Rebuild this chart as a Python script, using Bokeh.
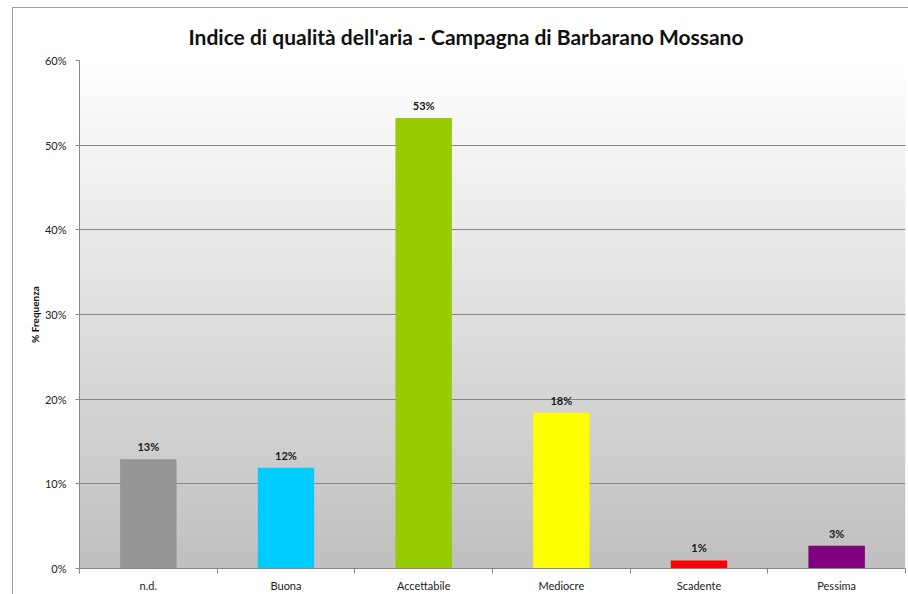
import numpy as np
from bokeh.plotting import figure
from bokeh.models import (Range1d, FixedTicker, NumeralTickFormatter, ColumnDataSource,
                          LabelSet, Title, InlineStyleSheet)
from bokeh.core.properties import value
from bokeh.embed import file_html
from bokeh.resources import INLINE

title_text = "Indice di qualità dell'aria - Campagna di Barbarano Mossano"
y_label = "% Frequenza"
categories = ["n.d.", "Buona", "Accettabile", "Mediocre", "Scadente", "Pessima"]
values = [0.129, 0.119, 0.532, 0.184, 0.0095, 0.027]
labels = ["13%", "12%", "53%", "18%", "1%", "3%"]
colors = ["#969696", "#00ccff", "#99cc00", "#ffff00", "#ff0000", "#800080"]
y_max = 0.6

FONT = "Lato"
GRAY = "#868686"

n = len(categories)
xc = [i + 0.5 for i in range(n)]

css = """
:host {
  background:
    linear-gradient(#a0a0a0, #a0a0a0) 12px 7px / 1px 100% no-repeat,
    linear-gradient(#a0a0a0, #a0a0a0) 12px 7px / 100% 1px no-repeat,
    #ffffff;
}
"""

p = figure(width=908, height=594, output_backend="svg", toolbar_location=None,
           x_range=Range1d(0, n), y_range=Range1d(0, y_max),
           min_border_left=79, min_border_right=3, min_border_top=60, min_border_bottom=25,
           background_fill_color="white", border_fill_color=None, outline_line_color=None,
           stylesheets=[InlineStyleSheet(css=css)])
p.title = None

# gradient plot-area background (white -> light gray)
rows = 200
t = np.linspace(0, 1, rows)  # bottom to top
top_c = np.array([255, 255, 255])
bot_c = np.array([192, 192, 192])
img = np.zeros((rows, 1), dtype=np.uint32)
view = img.view(dtype=np.uint8).reshape((rows, 1, 4))
for k in range(rows):
    c = bot_c + (top_c - bot_c) * t[k]
    view[k, 0, 0:3] = c.astype(np.uint8)
    view[k, 0, 3] = 255
p.image_rgba(image=[img], x=0, y=0, dw=n, dh=y_max, level="image")

src = ColumnDataSource(dict(x=xc, top=values, color=colors, label=labels))
p.vbar(x="x", top="top", width=0.41, bottom=0, color="color", source=src, line_color=None)

ls = LabelSet(x="x", y="top", text="label", source=src, text_align="center",
              text_baseline="bottom", y_offset=6, text_font=value(FONT),
              text_font_style="bold", text_font_size="11px", text_color="#1a1a1a")
p.add_layout(ls)

# y axis
p.yaxis.ticker = FixedTicker(ticks=[0, 0.1, 0.2, 0.3, 0.4, 0.5, 0.6])
p.yaxis.formatter = NumeralTickFormatter(format="0%")
p.yaxis.axis_line_color = GRAY
p.yaxis.major_tick_line_color = GRAY
p.yaxis.major_tick_out = 4
p.yaxis.major_tick_in = 0
p.yaxis.minor_tick_line_color = None
p.yaxis.major_label_text_font = FONT
p.yaxis.major_label_text_font_size = "11px"
p.yaxis.major_label_text_color = "#222222"
p.yaxis.major_label_standoff = 9
p.yaxis.axis_label = y_label
p.yaxis.axis_label_text_font = FONT
p.yaxis.axis_label_text_font_style = "bold"
p.yaxis.axis_label_text_font_size = "10px"
p.yaxis.axis_label_text_color = "#111111"
p.yaxis.axis_label_standoff = 1

# x axis: ticks at category boundaries, labels at centers
p.xaxis.ticker = FixedTicker(ticks=xc, minor_ticks=list(range(n + 1)))
p.xaxis.major_label_overrides = {x: c for x, c in zip(xc, categories)}
p.xaxis.axis_line_color = GRAY
p.xaxis.major_tick_line_color = None
p.xaxis.major_tick_out = 0
p.xaxis.major_tick_in = 0
p.xaxis.minor_tick_line_color = GRAY
p.xaxis.minor_tick_out = 5
p.xaxis.minor_tick_in = 0
p.xaxis.major_label_text_font = FONT
p.xaxis.major_label_text_font_size = "11px"
p.xaxis.major_label_text_color = "#222222"
p.xaxis.major_label_standoff = 5

p.xgrid.grid_line_color = None
p.ygrid.ticker = FixedTicker(ticks=[0.1, 0.2, 0.3, 0.4, 0.5, 0.6])
p.ygrid.grid_line_color = GRAY
p.ygrid.grid_line_width = 1

ttl = Title(text=title_text, text_font=FONT, text_font_style="bold", text_font_size="21px",
            text_color="#111111", align="left", offset=109, standoff=23)
p.add_layout(ttl, "above")

open("out.html", "w").write(file_html(p, INLINE))
